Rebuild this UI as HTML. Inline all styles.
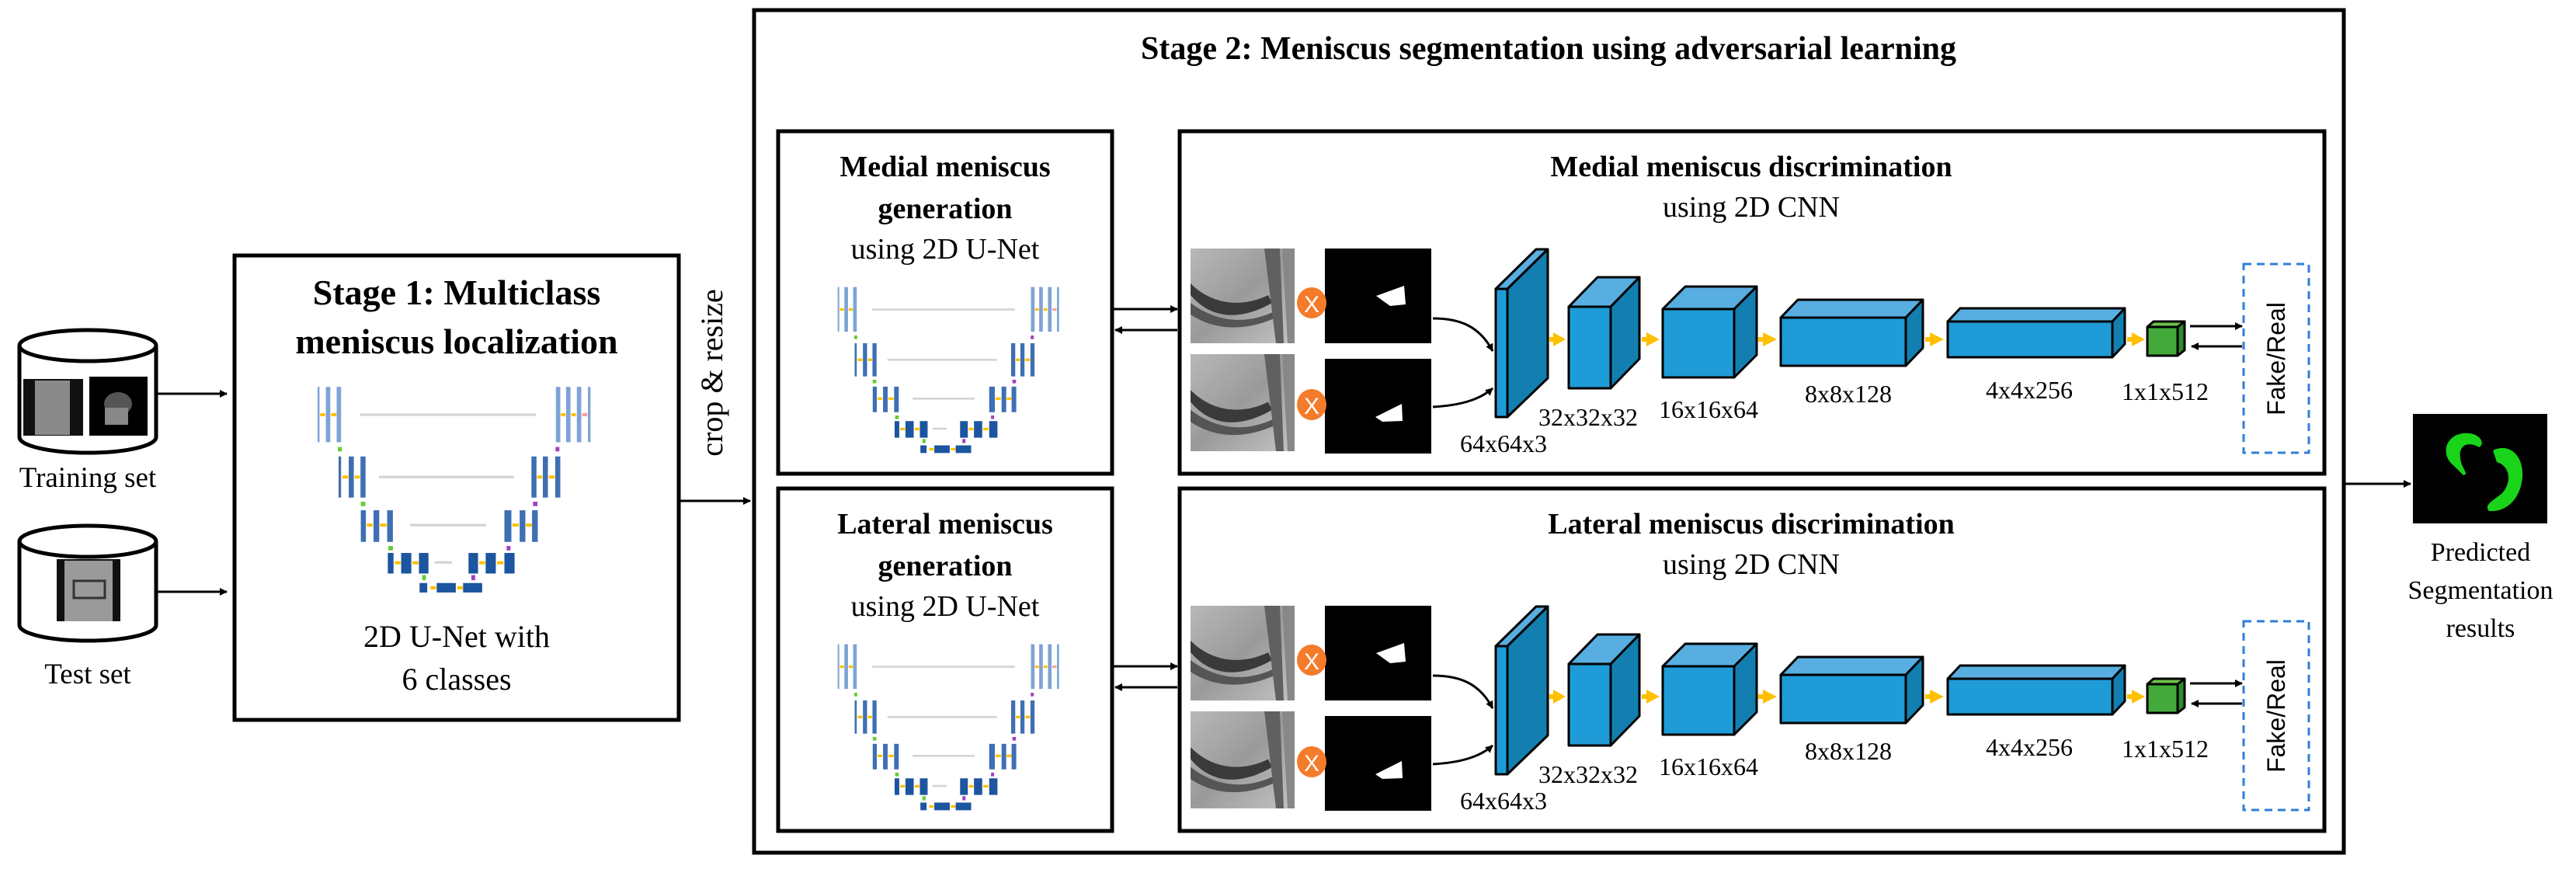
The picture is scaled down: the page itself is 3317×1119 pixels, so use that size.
<!DOCTYPE html>
<html><head><meta charset="utf-8"><style>
html,body{margin:0;padding:0;background:#fff;}
svg{display:block;}
</style></head><body>
<svg width="3317" height="1119" viewBox="0 0 3317 1119" xmlns="http://www.w3.org/2000/svg" font-family="'Liberation Serif', 'Times New Roman', serif">
<defs>
<marker id="ah" markerWidth="10" markerHeight="10" refX="9" refY="5" orient="auto" markerUnits="userSpaceOnUse" viewBox="0 0 10 10"><path d="M0,0 L10,5 L0,10 z" fill="#000"/></marker>
<symbol id="unet" viewBox="220 95 880 675" preserveAspectRatio="none">
<g fill="#7ea3d6">
<rect x="237" y="115" width="6" height="175"/><rect x="263" y="115" width="14" height="175"/><rect x="297" y="115" width="14" height="175"/>
<rect x="987" y="115" width="14" height="175"/><rect x="1019" y="115" width="14" height="175"/><rect x="1053" y="115" width="14" height="175"/><rect x="1088" y="115" width="8" height="175"/>
</g>
<g fill="#3f6fb3">
<rect x="303" y="335" width="8" height="130"/><rect x="335" y="335" width="16" height="130"/><rect x="372" y="335" width="16" height="130"/>
<rect x="910" y="335" width="16" height="130"/><rect x="946" y="335" width="16" height="130"/><rect x="985" y="335" width="16" height="130"/>
<rect x="373" y="505" width="16" height="100"/><rect x="413" y="505" width="18" height="100"/><rect x="456" y="505" width="18" height="100"/>
<rect x="825" y="505" width="22" height="100"/><rect x="873" y="505" width="18" height="100"/><rect x="912" y="505" width="18" height="100"/>
</g>
<g fill="#1c55a0">
<rect x="458" y="640" width="18" height="65"/><rect x="500" y="640" width="32" height="65"/><rect x="556" y="640" width="30" height="65"/>
<rect x="712" y="640" width="30" height="65"/><rect x="766" y="640" width="32" height="65"/><rect x="825" y="640" width="32" height="65"/>
<rect x="558" y="735" width="24" height="30"/><rect x="612" y="735" width="60" height="30"/><rect x="695" y="735" width="60" height="30"/>
</g>
<g stroke="#d4d4d4" stroke-width="8">
<line x1="370" y1="203" x2="925" y2="203"/><line x1="430" y1="400" x2="855" y2="400"/><line x1="528" y1="552" x2="768" y2="552"/><line x1="605" y1="670" x2="660" y2="670"/>
</g>
<g fill="#ffc000">
<rect x="245" y="198" width="16" height="10"/><rect x="280" y="198" width="16" height="10"/><rect x="1003" y="198" width="14" height="10"/><rect x="1036" y="198" width="14" height="10"/>
<rect x="315" y="395" width="18" height="10"/><rect x="354" y="395" width="16" height="10"/><rect x="928" y="395" width="16" height="10"/><rect x="965" y="395" width="18" height="10"/>
<rect x="392" y="547" width="18" height="10"/><rect x="434" y="547" width="20" height="10"/><rect x="850" y="547" width="20" height="10"/><rect x="893" y="547" width="18" height="10"/>
<rect x="480" y="666" width="18" height="10"/><rect x="536" y="666" width="18" height="10"/><rect x="746" y="666" width="18" height="10"/><rect x="802" y="666" width="20" height="10"/>
<rect x="592" y="745" width="18" height="10"/><rect x="676" y="745" width="18" height="10"/>
</g>
<rect x="1070" y="198" width="16" height="10" fill="#f4a0a0"/>
<g fill="#66cc33"><rect x="301" y="305" width="12" height="14"/><rect x="373" y="478" width="14" height="14"/><rect x="460" y="618" width="14" height="14"/><rect x="566" y="710" width="12" height="16"/></g>
<g fill="#a040c0"><rect x="986" y="305" width="12" height="14"/><rect x="915" y="478" width="14" height="14"/><rect x="832" y="618" width="12" height="14"/><rect x="721" y="710" width="12" height="16"/></g>
</symbol>
<linearGradient id="mri" x1="0" y1="0" x2="1" y2="1"><stop offset="0" stop-color="#b8b8b8"/><stop offset="0.5" stop-color="#9a9a9a"/><stop offset="1" stop-color="#c4c4c4"/></linearGradient>
<symbol id="mriimg" viewBox="0 0 134 122" preserveAspectRatio="none">
<rect width="134" height="122" fill="url(#mri)"/>
<path d="M0,45 C30,75 70,75 100,60 L105,70 C70,90 30,95 0,60 z" fill="#3a3a3a"/>
<path d="M0,70 C40,100 80,95 110,80 L112,88 C70,108 30,105 0,85 z" fill="#555"/>
<path d="M95,0 L115,0 L120,122 L110,122 z" fill="#606060"/>
<path d="M118,0 L134,0 L134,122 L125,122 z" fill="#888"/>
</symbol>
</defs>

<!-- cylinders -->
<g stroke="#000" stroke-width="5" fill="#fff">
<path d="M25,445 L25,563 A88,20 0 0 0 201,563 L201,445"/>
<ellipse cx="113" cy="445" rx="88" ry="20"/>
<path d="M25,697 L25,805 A88,20 0 0 0 201,805 L201,697"/>
<ellipse cx="113" cy="697" rx="88" ry="20"/>
</g>
<rect x="30" y="488" width="77" height="73" fill="#111"/>
<rect x="45" y="490" width="45" height="70" fill="#8a8a8a"/>
<rect x="115" y="485" width="75" height="76" fill="#000"/>
<ellipse cx="152" cy="520" rx="18" ry="15" fill="#555"/>
<rect x="135" y="525" width="30" height="22" fill="#888"/>
<rect x="73" y="720" width="82" height="80" fill="#111"/>
<rect x="83" y="722" width="62" height="78" fill="#9a9a9a"/>
<rect x="95" y="748" width="40" height="22" fill="none" stroke="#333" stroke-width="3"/>
<text x="113" y="627" font-size="37" text-anchor="middle">Training set</text>
<text x="113" y="880" font-size="37" text-anchor="middle">Test set</text>
<g stroke="#000" stroke-width="3">
<line x1="201" y1="507" x2="292" y2="507" marker-end="url(#ah)"/>
<line x1="201" y1="762" x2="292" y2="762" marker-end="url(#ah)"/>
<line x1="876" y1="645" x2="966" y2="645" marker-end="url(#ah)"/>
<line x1="3019" y1="623" x2="3104" y2="623" marker-end="url(#ah)"/>
</g>

<!-- Stage 1 -->
<rect x="302" y="329" width="572" height="598" fill="none" stroke="#000" stroke-width="5"/>
<text x="588" y="392" font-size="46" font-weight="bold" text-anchor="middle">Stage 1: Multiclass</text>
<text x="588" y="455" font-size="46" font-weight="bold" text-anchor="middle">meniscus localization</text>
<use href="#unet" x="402" y="490" width="360" height="275"/>
<text x="588" y="833" font-size="40" text-anchor="middle">2D U-Net with</text>
<text x="588" y="888" font-size="40" text-anchor="middle">6 classes</text>
<text transform="translate(930,480) rotate(-90)" font-size="40" text-anchor="middle">crop &amp; resize</text>

<!-- Stage 2 -->
<rect x="971" y="13" width="2047" height="1085" fill="none" stroke="#000" stroke-width="5"/>
<text x="1994" y="76" font-size="42" font-weight="bold" text-anchor="middle">Stage 2: Meniscus segmentation using adversarial learning</text>

<g id="row">
<rect x="1002" y="169" width="430" height="441" fill="none" stroke="#000" stroke-width="5"/>
<rect x="1519" y="169" width="1474" height="441" fill="none" stroke="#000" stroke-width="5"/>
<use href="#unet" x="1073" y="363" width="292" height="222"/>
<g stroke="#000" stroke-width="3">
<line x1="1434" y1="398" x2="1516" y2="398" marker-end="url(#ah)"/>
<line x1="1516" y1="425" x2="1436" y2="425" marker-end="url(#ah)"/>
<line x1="2820" y1="420" x2="2887" y2="420" marker-end="url(#ah)"/>
<line x1="2887" y1="446" x2="2822" y2="446" marker-end="url(#ah)"/>
<path d="M1845,410 C1880,410 1905,420 1922,452" fill="none" marker-end="url(#ah)"/>
<path d="M1845,524 C1880,522 1905,515 1922,500" fill="none" marker-end="url(#ah)"/>
</g>
<use href="#mriimg" x="1533" y="320" width="134" height="122"/>
<use href="#mriimg" x="1533" y="456" width="134" height="125"/>
<rect x="1706" y="320" width="137" height="122" fill="#000"/>
<rect x="1706" y="462" width="137" height="122" fill="#000"/>
<path d="M1772,381 L1808,368 L1810,392 L1790,394 z" fill="#fff"/>
<path d="M1771,537 L1805,520 L1806,542 L1780,543 z" fill="#fff"/>
<ellipse cx="1689" cy="390" rx="19" ry="20" fill="#f47b2a"/><text x="1689" y="402" font-size="30" fill="#fff" text-anchor="middle" font-family="'Liberation Sans', sans-serif">X</text>
<ellipse cx="1689" cy="521" rx="19" ry="20" fill="#f47b2a"/><text x="1689" y="533" font-size="30" fill="#fff" text-anchor="middle" font-family="'Liberation Sans', sans-serif">X</text>
<g stroke="#000" stroke-width="3" stroke-linejoin="round">
<polygon points="1926,372 1978,321 1993,321 1941,372" fill="#58aee0"/>
<polygon points="1941,372 1993,321 1993,487 1941,537" fill="#137fb0"/>
<rect x="1926" y="372" width="15" height="165" fill="#1f9bd7"/>
<polygon points="2020,395 2057,357 2111,357 2074,395" fill="#58aee0"/>
<polygon points="2074,395 2111,357 2111,462 2074,500" fill="#137fb0"/>
<rect x="2020" y="395" width="54" height="105" fill="#1f9bd7"/>
<polygon points="2141,398 2170,369 2262,369 2233,398" fill="#58aee0"/>
<polygon points="2233,398 2262,369 2262,457 2233,486" fill="#137fb0"/>
<rect x="2141" y="398" width="92" height="88" fill="#1f9bd7"/>
<polygon points="2293,409 2315,386 2476,386 2454,409" fill="#58aee0"/>
<polygon points="2454,409 2476,386 2476,448 2454,471" fill="#137fb0"/>
<rect x="2293" y="409" width="161" height="62" fill="#1f9bd7"/>
<polygon points="2508,414 2524,397 2736,397 2720,414" fill="#58aee0"/>
<polygon points="2720,414 2736,397 2736,443 2720,460" fill="#137fb0"/>
<rect x="2508" y="414" width="212" height="46" fill="#1f9bd7"/>
<polygon points="2765,421 2773,414 2813,414 2804,421" fill="#6cc04a"/>
<polygon points="2804,421 2813,414 2813,451 2804,458" fill="#2e8b2e"/>
<rect x="2765" y="421" width="39" height="37" fill="#43a93a"/>
</g>
<g fill="#ffc000">
<polygon points="2000,428 2016,437 2000,446"/><rect x="1995" y="434" width="6" height="6"/>
<polygon points="2120,428 2137,437 2120,446"/><rect x="2114" y="434" width="6" height="6"/>
<polygon points="2270,428 2288,437 2270,446"/><rect x="2264" y="434" width="6" height="6"/>
<polygon points="2485,428 2503,437 2485,446"/><rect x="2479" y="434" width="6" height="6"/>
<polygon points="2745,428 2762,437 2745,446"/><rect x="2739" y="434" width="6" height="6"/>
</g>
<rect x="2889" y="340" width="84" height="243" fill="none" stroke="#2f7fd8" stroke-width="3" stroke-dasharray="10,7"/>
<text transform="translate(2942,462) rotate(-90)" font-size="32" font-family="'Liberation Sans', sans-serif" text-anchor="middle">Fake/Real</text>
<text x="1936" y="582" font-size="32" text-anchor="middle">64x64x3</text>
<text x="2045" y="548" font-size="32" text-anchor="middle">32x32x32</text>
<text x="2200" y="538" font-size="32" text-anchor="middle">16x16x64</text>
<text x="2380" y="518" font-size="32" text-anchor="middle">8x8x128</text>
<text x="2613" y="513" font-size="32" text-anchor="middle">4x4x256</text>
<text x="2788" y="515" font-size="32" text-anchor="middle">1x1x512</text>
</g>
<text x="1217" y="227" font-size="38" font-weight="bold" text-anchor="middle">Medial meniscus</text>
<text x="1217" y="281" font-size="38" font-weight="bold" text-anchor="middle">generation</text>
<text x="1217" y="333" font-size="38" text-anchor="middle">using 2D U-Net</text>
<text x="2255" y="227" font-size="38" font-weight="bold" text-anchor="middle">Medial meniscus discrimination</text>
<text x="2255" y="279" font-size="38" text-anchor="middle">using 2D CNN</text>

<use href="#row" y="460"/>
<text x="1217" y="687" font-size="38" font-weight="bold" text-anchor="middle">Lateral meniscus</text>
<text x="1217" y="741" font-size="38" font-weight="bold" text-anchor="middle">generation</text>
<text x="1217" y="793" font-size="38" text-anchor="middle">using 2D U-Net</text>
<text x="2255" y="687" font-size="38" font-weight="bold" text-anchor="middle">Lateral meniscus discrimination</text>
<text x="2255" y="739" font-size="38" text-anchor="middle">using 2D CNN</text>

<rect x="3107" y="533" width="173" height="141" fill="#000"/>
<path d="M3160,600 C3140,585 3150,555 3180,558 C3195,560 3200,572 3192,576 C3180,568 3165,572 3168,590 C3170,605 3180,610 3172,612 z" fill="#19d419"/>
<path d="M3210,580 C3230,570 3250,585 3248,615 C3245,645 3225,660 3205,658 C3198,650 3210,645 3222,635 C3235,620 3232,600 3215,595 z" fill="#19d419"/>
<text x="3194" y="722" font-size="34" text-anchor="middle">Predicted</text>
<text x="3194" y="771" font-size="34" text-anchor="middle">Segmentation</text>
<text x="3194" y="820" font-size="34" text-anchor="middle">results</text>
</svg>
</body></html>
